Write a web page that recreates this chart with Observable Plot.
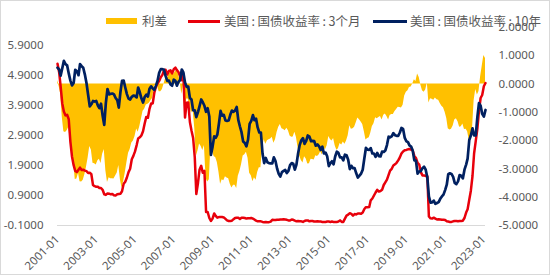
<!DOCTYPE html>
<html><head><meta charset="utf-8">
<script src="https://cdn.jsdelivr.net/npm/d3@7"></script>
<script src="https://cdn.jsdelivr.net/npm/@observablehq/plot@0.6"></script>
<style>
body{margin:0;background:#fff;}
#wrap{position:relative;width:550px;height:275px;overflow:hidden;background:#fff;}
#chart{position:absolute;left:0;top:0;}
#frame{position:absolute;left:0;top:0;width:550px;height:275px;box-sizing:border-box;border:1px solid #d9d9d9;pointer-events:none;}
.lg{position:absolute;font-family:"Noto Sans CJK SC","Noto Sans",sans-serif;font-size:12.5px;color:#595959;line-height:14px;top:14px;white-space:nowrap;}
.lg .c{margin:0 2.5px;}
.sw{position:absolute;}
</style></head><body>
<div id="wrap">
  <div id="chart"></div>
  <div id="legend"></div>
  <div id="frame"></div>
</div>
<script>
// ---- data (monthly, from 2001-01) ----
const startMonth = "2001-01-01";
const seriesNames = ["利差", "美国:国债收益率:3个月", "美国:国债收益率:10年"];
const seriesColors = ["#FFC000", "#E8000B", "#002060"];

const yield3m = [
  5.29,5.01,4.54,3.97,3.70,3.57,3.59,3.44,2.69,2.20,1.91,1.72, // 2001
  1.68,1.76,1.83,1.75,1.76,1.73,1.71,1.65,1.66,1.61,1.25,1.21, // 2002
  1.19,1.19,1.15,1.15,1.09,0.94,0.92,0.97,0.96,0.94,0.95,0.91, // 2003
  0.90,0.94,0.95,0.96,1.04,1.29,1.36,1.50,1.68,1.79,2.11,2.22, // 2004
  2.37,2.58,2.80,2.84,2.90,3.04,3.29,3.52,3.49,3.79,3.97,3.97, // 2005
  4.34,4.54,4.63,4.72,4.84,4.92,5.08,5.09,4.93,5.05,5.07,4.97, // 2006
  5.11,5.16,5.08,5.01,4.87,4.74,4.96,3.50,3.99,4.00,3.35,3.07, // 2007
  2.82,2.17,0.95,1.31,1.76,1.89,1.66,1.72,0.35,0.35,0.15,0.05, // 2008
  0.13,0.30,0.22,0.16,0.18,0.18,0.18,0.17,0.12,0.07,0.05,0.05, // 2009
  0.06,0.11,0.15,0.16,0.16,0.12,0.16,0.16,0.15,0.13,0.14,0.14, // 2010
  0.15,0.13,0.10,0.06,0.04,0.04,0.04,0.02,0.01,0.02,0.01,0.01, // 2011
  0.03,0.09,0.08,0.08,0.09,0.09,0.10,0.10,0.11,0.10,0.09,0.07, // 2012
  0.07,0.10,0.09,0.06,0.04,0.05,0.04,0.04,0.02,0.05,0.07,0.07, // 2013
  0.04,0.05,0.05,0.03,0.03,0.04,0.03,0.03,0.02,0.02,0.02,0.03, // 2014
  0.03,0.02,0.03,0.02,0.02,0.02,0.03,0.07,0.02,0.02,0.13,0.23, // 2015
  0.26,0.31,0.29,0.23,0.28,0.27,0.30,0.30,0.29,0.33,0.45,0.51, // 2016
  0.51,0.52,0.74,0.80,0.90,1.00,1.09,1.03,1.05,1.09,1.25,1.34, // 2017
  1.43,1.59,1.73,1.79,1.90,1.94,1.99,2.07,2.17,2.30,2.37,2.41, // 2018
  2.42,2.44,2.45,2.43,2.40,2.22,2.15,1.99,1.93,1.68,1.57,1.57, // 2019
  1.55,1.54,0.20,0.14,0.13,0.16,0.13,0.10,0.11,0.10,0.09,0.09, // 2020
  0.08,0.04,0.03,0.02,0.02,0.04,0.05,0.05,0.04,0.05,0.05,0.06, // 2021
  0.15,0.33,0.44,0.76,1.06,1.55,2.30,2.71,3.13,3.72,4.15,4.25, // 2022
  4.54,4.65                                                    // 2023
];

const yield10y = [
  5.16,5.10,4.89,5.14,5.39,5.28,5.24,4.97,4.73,4.57,4.65,5.09, // 2001
  5.04,4.91,5.28,5.21,5.16,4.93,4.65,4.26,3.87,3.94,4.05,4.03, // 2002
  4.05,3.90,3.81,3.96,3.57,3.25,3.98,4.45,4.27,4.29,4.30,4.27, // 2003
  4.15,4.08,3.83,4.35,4.72,4.73,4.50,4.28,4.13,4.10,4.19,4.23, // 2004
  4.22,4.17,4.50,4.34,4.14,4.00,4.18,4.26,4.20,4.46,4.54,4.47, // 2005
  4.42,4.57,4.72,4.99,5.11,5.11,5.09,4.88,4.72,4.73,4.60,4.56, // 2006
  4.76,4.72,4.56,4.69,4.75,5.10,5.00,4.67,4.52,4.53,4.15,4.10, // 2007
  3.74,3.74,3.51,3.68,3.88,4.10,4.01,3.89,3.69,3.81,3.53,2.25, // 2008
  2.52,2.87,2.82,2.93,3.29,3.72,3.56,3.59,3.40,3.39,3.40,3.59, // 2009
  3.73,3.69,3.73,3.85,3.42,3.20,3.01,2.70,2.65,2.54,2.76,3.29, // 2010
  3.39,3.58,3.41,3.46,3.17,3.00,3.00,2.30,1.98,2.15,2.01,1.98, // 2011
  1.97,1.97,2.17,2.05,1.80,1.62,1.53,1.68,1.72,1.75,1.65,1.72, // 2012
  1.91,1.98,1.96,1.76,1.93,2.30,2.58,2.74,2.81,2.62,2.72,2.90, // 2013
  2.86,2.71,2.72,2.71,2.56,2.60,2.54,2.42,2.53,2.30,2.33,2.21, // 2014
  1.88,1.98,2.04,1.94,2.20,2.36,2.32,2.17,2.17,2.07,2.26,2.24, // 2015
  2.09,1.78,1.89,1.81,1.81,1.64,1.50,1.56,1.63,1.76,2.14,2.49, // 2016
  2.43,2.42,2.48,2.30,2.30,2.19,2.32,2.21,2.20,2.36,2.35,2.40, // 2017
  2.58,2.86,2.84,2.87,2.98,2.91,2.89,2.89,3.00,3.15,3.12,2.83, // 2018
  2.71,2.68,2.57,2.53,2.40,2.07,2.06,1.63,1.70,1.71,1.81,1.86, // 2019
  1.76,1.50,0.87,0.66,0.67,0.73,0.62,0.65,0.68,0.79,0.87,0.93, // 2020
  1.08,1.26,1.61,1.64,1.62,1.52,1.32,1.28,1.37,1.58,1.56,1.47, // 2021
  1.76,1.93,2.13,2.75,2.90,3.14,2.90,2.90,3.52,3.98,3.89,3.62, // 2022
  3.53,3.75                                                    // 2023
];

const leftTicks = [-0.1, 0.9, 1.9, 2.9, 3.9, 4.9, 5.9];
const rightTicks = [-5, -4, -3, -2, -1, 0, 1, 2];
const xTickYears = [2001, 2003, 2005, 2007, 2009, 2011, 2013, 2015, 2017, 2019, 2021, 2023];

// ---- build table ----
const months = d3.utcMonth.range(new Date(startMonth), d3.utcMonth.offset(new Date(startMonth), yield3m.length));
const rows = months.map((date, i) => ({date, y3m: yield3m[i], y10y: yield10y[i], spread: yield3m[i] - yield10y[i]}));

// left axis domain and right (secondary) axis domain
const leftDomain = [-0.1, 6.5];
const rightDomain = [-5, 2];
const k = (leftDomain[1] - leftDomain[0]) / (rightDomain[1] - rightDomain[0]);
const toLeft = r => leftDomain[0] + (r - rightDomain[0]) * k;
const fromLeft = v => rightDomain[0] + (v - leftDomain[0]) / k;
const fmt4 = v => { const r = Math.round(v * 10000) / 10000; return (r === 0 ? 0 : r).toFixed(4); };

const xTicks = xTickYears.map(y => new Date(Date.UTC(y, 0, 1)));

const chart = Plot.plot({
  width: 550,
  height: 275,
  marginLeft: 57,
  marginRight: 65,
  marginTop: 27,
  marginBottom: 50,
  style: {fontFamily: "'Noto Sans', sans-serif", fontSize: "11.5px", color: "#595959", background: "transparent"},
  x: {type: "utc", domain: [months[0], months[months.length - 1]]},
  y: {domain: leftDomain},
  marks: [
    Plot.areaY(rows, {x: "date", y1: () => toLeft(0), y2: d => toLeft(d.spread), fill: seriesColors[0]}),
    Plot.ruleY([leftDomain[0]], {stroke: "#d9d9d9", strokeWidth: 1}),
    Plot.lineY(rows, {x: "date", y: "y3m", stroke: seriesColors[1], strokeWidth: 2.5}),
    Plot.lineY(rows, {x: "date", y: "y10y", stroke: seriesColors[2], strokeWidth: 2.7}),
    Plot.axisY({ticks: leftTicks, tickFormat: fmt4, tickSize: 0, tickPadding: 14, label: null, color: "#595959"}),
    Plot.axisY({anchor: "right", ticks: rightTicks.map(toLeft), tickFormat: d => fmt4(fromLeft(d)), tickSize: 0, tickPadding: 13, label: null, color: "#595959"}),
    Plot.axisX({ticks: xTicks, tickFormat: d3.utcFormat("%Y-%m"), tickRotate: -45, tickSize: 0, tickPadding: 12, label: null, color: "#595959"})
  ]
});
document.getElementById("chart").appendChild(chart);

// ---- legend ----
const legend = document.getElementById("legend");
const items = [
  {kind: "rect", x: 106, w: 31, text: 142},
  {kind: "line", x: 188, w: 32, text: 224},
  {kind: "line", x: 373, w: 34, text: 410}
];
items.forEach((it, i) => {
  const sw = document.createElement("div");
  sw.className = "sw";
  sw.style.left = it.x + "px";
  sw.style.width = it.w + "px";
  sw.style.background = seriesColors[i];
  if (it.kind === "rect") { sw.style.top = "18px"; sw.style.height = "6px"; }
  else { sw.style.top = "20px"; sw.style.height = "2.5px"; }
  legend.appendChild(sw);
  const t = document.createElement("div");
  t.className = "lg";
  t.style.left = it.text + "px";
  seriesNames[i].split(":").forEach((part, j) => {
    if (j > 0) { const c = document.createElement("span"); c.className = "c"; c.textContent = ":"; t.appendChild(c); }
    t.appendChild(document.createTextNode(part));
  });
  legend.appendChild(t);
});
</script>
</body></html>
